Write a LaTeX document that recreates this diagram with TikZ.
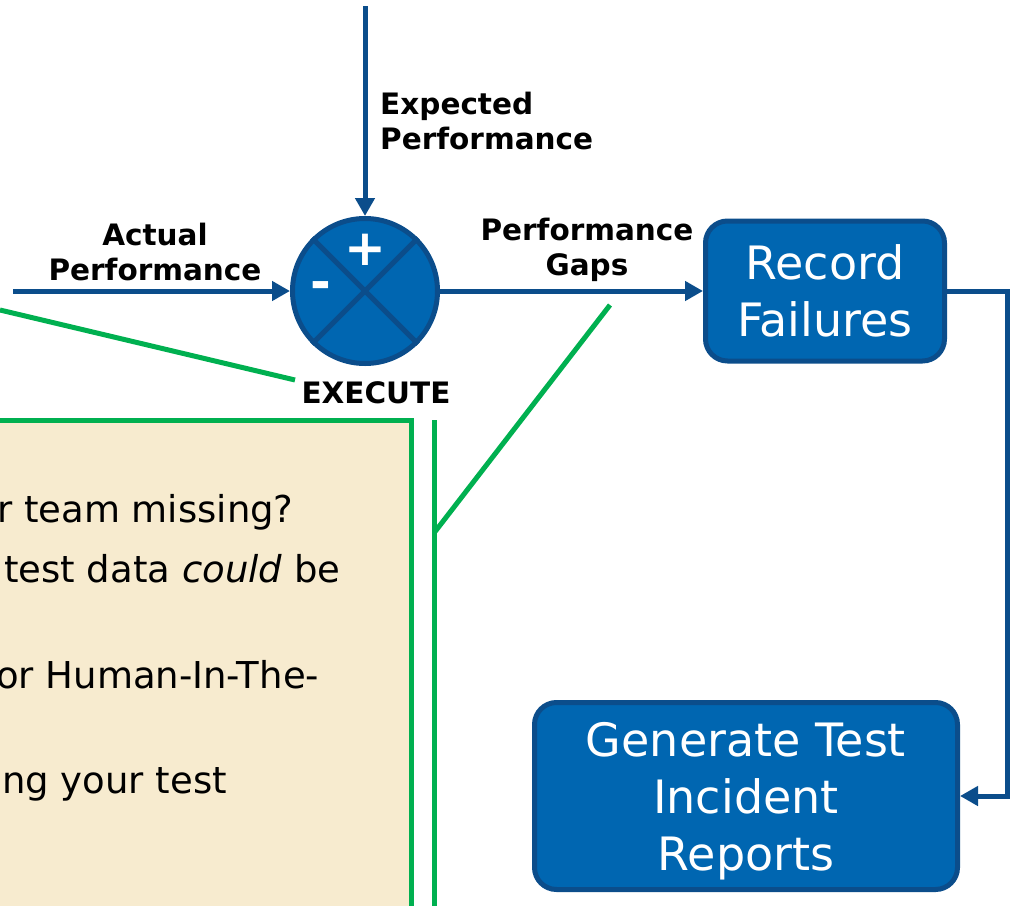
\documentclass[tikz,border=0pt]{standalone}
\usepackage{fontspec}
\setmainfont{DejaVu Sans}
\usepackage{xcolor}
\usetikzlibrary{arrows.meta,positioning}
\definecolor{fillblue}{HTML}{0066B1}
\definecolor{edgeblue}{HTML}{0B4D8B}
\definecolor{notetan}{HTML}{F7EBCF}
\definecolor{callgreen}{HTML}{00B050}

\begin{document}
\begin{tikzpicture}[x=1pt,y=-1pt,
    >={Triangle[length=18pt,width=19pt]},
    flow/.style={draw=edgeblue, line width=5pt},
    stepbox/.style={draw=edgeblue, fill=fillblue, line width=5pt, rounded corners=22pt, text=white, align=center, font=\fontsize{46}{57}\selectfont, inner sep=0pt},
    lbl/.style={font=\bfseries\fontsize{29.5}{35}\selectfont, align=center, inner sep=0pt},
    pointer/.style={draw=callgreen, line width=5pt},
    note/.style={font=\fontsize{37}{44}\selectfont, anchor=base west, inner sep=0pt}]
  \useasboundingbox (0,0) rectangle (1012,905);
  \clip (0,0) rectangle (1012,905);

  % note box, cut at the left
  \draw[pointer, fill=notetan] (-20,420) rectangle (411,930);
  \node[note] (q1) at (-3,522) {r team missing?};
  \node[note] (q2) at (4,582) {test data \textit{could} be};
  \node[note] (q3) at (-4,688) {or Human-In-The-};
  \node[note] (q4) at (2,793) {ng your test};

  % summing junction
  \node[circle, draw=edgeblue, fill=fillblue, line width=5pt, minimum size=145pt, inner sep=0pt] (sum) at (365,291) {};
  \draw[edgeblue, line width=5pt] (sum.45) -- (sum.225) (sum.135) -- (sum.315);
  \node[font=\bfseries\fontsize{50}{50}\selectfont, text=white, inner sep=0pt] (plus) at (365,250) {+};
  \node[font=\bfseries\fontsize{50}{50}\selectfont, text=white, inner sep=0pt] (minus) at (321,291) {-};

  % steps
  \node[stepbox, minimum width=239pt, minimum height=140pt] (record) at (825,291) {Record\\Failures};
  \node[stepbox, minimum width=423pt, minimum height=187pt, text depth=0pt] (report) at (746,796) {Generate Test\\Incident\\Reports};

  % signals
  \coordinate (expsrc) at (365,6);
  \coordinate (actsrc) at (13,291);
  \draw[flow,->] (expsrc) -- (sum.north);
  \draw[flow,->] (actsrc) -- (sum.west);
  \draw[flow,->] (sum.east) -- (record.west);
  \draw[flow,->] (record.east) -- ++(60,0) |- (report.east);

  \node[lbl] (actlbl) at (155,252) {Actual\\Performance};
  \node[lbl, anchor=west, align=left] (explbl) at (380,121) {Expected\\Performance};
  \node[lbl] (gaplbl) at (587,250) {Performance\\Gaps};
  \node[lbl] (exec) at (376,393) {EXECUTE};

  % callout pointers
  \coordinate (pa) at (0,310);
  \coordinate (pb) at (295,380);
  \coordinate (pc) at (610,305);
  \coordinate (pd) at (434,533);
  \coordinate (pe) at (434,420);
  \coordinate (pf) at (434,930);
  \draw[pointer] (pa) -- (pb);
  \draw[pointer] (pc) -- (pd);
  \draw[pointer] (pe) -- (pf);
\end{tikzpicture}
\end{document}
